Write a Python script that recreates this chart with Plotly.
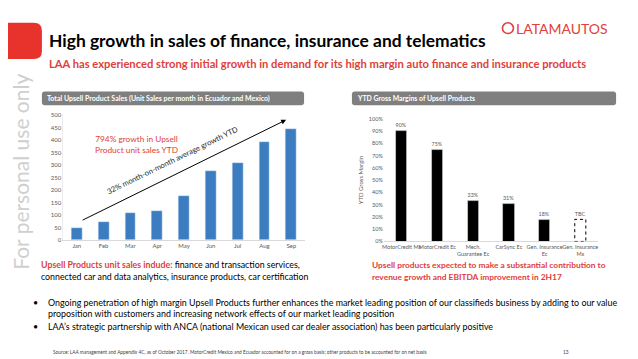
import plotly.graph_objects as go

W, H = 638, 359

# ---------------- data ----------------
months = ["Jan", "Feb", "Mar", "Apr", "May", "Jun", "Jul", "Aug", "Sep"]
unit_sales = [49, 73, 110, 117, 175, 275, 307, 392, 446]

products = ["MotorCredit Mx", "MotorCredit Ec", "Mech.<br>Guarantee Ec", "CarSync Ec",
            "Gen. Insurance<br>Ec", "Gen. Insurance<br>Mx"]
gross_margin = [0.90, 0.75, 0.33, 0.31, 0.18, 0.18]
margin_labels = ["90%", "75%", "33%", "31%", "18%", "TBC"]
margin_confirmed = [True, True, True, True, True, False]

sales_ticks = list(range(0, 501, 50))
margin_ticks = [i / 10 for i in range(0, 11)]

FONT = "Lato, 'Open Sans', sans-serif"
RED = "#e0403a"
GREY_TXT = "#595959"


def px(x):
    return x / W


def py(y):
    return 1 - y / H


def rrect(x0, y0, x1, y1, r):
    # rounded rectangle path in paper coordinates from pixel values
    pts = (f"M {px(x0 + r)},{py(y0)} L {px(x1 - r)},{py(y0)} Q {px(x1)},{py(y0)} {px(x1)},{py(y0 + r)} "
           f"L {px(x1)},{py(y1 - r)} Q {px(x1)},{py(y1)} {px(x1 - r)},{py(y1)} "
           f"L {px(x0 + r)},{py(y1)} Q {px(x0)},{py(y1)} {px(x0)},{py(y1 - r)} "
           f"L {px(x0)},{py(y0 + r)} Q {px(x0)},{py(y0)} {px(x0 + r)},{py(y0)} Z")
    return pts


fig = go.Figure()

# left chart bars
fig.add_trace(go.Bar(x=months, y=unit_sales, marker_color="#3b7dc0", width=0.4,
                     xaxis="x", yaxis="y", showlegend=False, hoverinfo="x+y"))

# right chart bars
bar_colors = ["#000000" if c else "rgba(0,0,0,0)" for c in margin_confirmed]
fig.add_trace(go.Bar(x=products, y=gross_margin, marker_color=bar_colors, width=0.31,
                     text=margin_labels, textposition="outside", cliponaxis=False,
                     textfont=dict(size=5.5, color=GREY_TXT, family=FONT),
                     xaxis="x2", yaxis="y2", showlegend=False))

shapes = []
# dashed outline for unconfirmed margins
for i, (v, c) in enumerate(zip(gross_margin, margin_confirmed)):
    if not c:
        shapes.append(dict(type="rect", xref="x2", yref="y2", x0=i - 0.155, x1=i + 0.155,
                           y0=0, y1=v, line=dict(color="#000000", width=1, dash="dot"),
                           fillcolor="rgba(0,0,0,0)"))

# red tab top-left
shapes.append(dict(type="path", xref="paper", yref="paper", path=rrect(-12, 11, 32, 48, 8),
                   fillcolor="#e8332c", line=dict(width=0)))
# grey header boxes
shapes.append(dict(type="path", xref="paper", yref="paper", path=rrect(32, 81, 295, 95, 3),
                   fillcolor="#7f7f7f", line=dict(width=0)))
shapes.append(dict(type="path", xref="paper", yref="paper", path=rrect(343, 81, 608, 95, 3),
                   fillcolor="#7f7f7f", line=dict(width=0)))
# logo mark
shapes.append(dict(type="circle", xref="paper", yref="paper", x0=px(494), x1=px(505),
                   y0=py(22), y1=py(11), line=dict(color=RED, width=1.6)))

annotations = []


def txt(x, y, text, size, color="#000000", bold=False, xanchor="left", yanchor="middle",
        align="left", angle=0, family=FONT):
    if bold:
        text = f"<b>{text}</b>"
    annotations.append(dict(x=px(x), y=py(y), xref="paper", yref="paper", text=text,
                            showarrow=False, xanchor=xanchor, yanchor=yanchor, align=align,
                            textangle=angle, borderpad=0,
                            font=dict(size=size, color=color, family=family)))


txt(38, 29, "High growth in sales of finance, insurance and telematics", 17.4, "#000000", bold=True)
txt(38, 53, "LAA has experienced strong initial growth in demand for its high margin auto finance and insurance products",
    11.2, RED, bold=True)
txt(507, 16.5, "LATAMAUTOS", 14, RED)

txt(36, 88, "Total Upsell Product Sales (Unit Sales per month in Ecuador and Mexico)", 7.0, "#ffffff", bold=True)
txt(347, 88, "YTD Gross Margins of Upsell Products", 6.9, "#ffffff", bold=True)

txt(127, 135, "794% growth in Upsell<br>Product unit sales YTD", 8.3, RED, xanchor="center", align="center")
txt(163, 151, "32% month-on-month average growth YTD", 7.6, "#262626", xanchor="center", angle=-26)

# arrow (head at (277,110), tail at (72,211) in pixels)
annotations.append(dict(x=px(277), y=py(110), ax=72 - 277, ay=211 - 110, xref="paper", yref="paper",
                        axref="pixel", ayref="pixel", showarrow=True, arrowhead=2, arrowsize=1,
                        arrowwidth=1, arrowcolor="#000000", text=""))

txt(30, 258, f"<span style='color:{RED}'><b>Upsell Products unit sales indude:</b></span> finance and transaction services,",
    8.8, "#000000")
txt(30, 270, "connected car and data analytics, insurance products, car certification", 8.8, "#000000")
txt(362, 258, "Upsell products expected to make a substantial contribution to", 8.4, RED, bold=True)
txt(362, 270, "revenue growth and EBITDA improvement in 2H17", 8.4, RED, bold=True)

txt(22, 296, "•", 8.9)
txt(37, 296, "Ongoing penetration of high margin Upsell Products further enhances the market leading position of our classifieds business by adding to our value",
    8.9)
txt(37, 308, "proposition with customers and increasing network effects of our market leading position", 8.9)
txt(22, 321, "•", 8.9)
txt(37, 321, "LAA’s strategic partnership with ANCA (national Mexican used car dealer association) has been particularly positive",
    8.9)
txt(42, 347, "Source: LAA management and Appendix 4C, as of October 2017. MotorCredit Mexico and Ecuador accounted for on a gross basis; other products to be accounted for on net basis",
    4.8, "#404040")
txt(558, 347, "13", 4.8, "#404040", xanchor="center")

txt(11, 163, "For personal use only", 21, "#cfcfcf", xanchor="center", angle=-90)

fig.update_layout(
    width=W, height=H, margin=dict(l=0, r=0, t=0, b=0),
    paper_bgcolor="white", plot_bgcolor="white",
    font=dict(family=FONT, color=GREY_TXT),
    shapes=shapes, annotations=annotations, bargap=0,
    xaxis=dict(domain=[px(53.6), px(295.6)], anchor="y", showline=True, linecolor="#d9d9d9",
               linewidth=1, ticks="", tickfont=dict(size=6, color=GREY_TXT), showgrid=False,
               fixedrange=True),
    yaxis=dict(domain=[py(232.7), py(105)], anchor="x", range=[0, 500], tickvals=sales_ticks,
               showgrid=False, zeroline=False, showline=True, linecolor="#ececec", linewidth=1,
               ticks="", tickfont=dict(size=6, color=GREY_TXT), fixedrange=True),
    xaxis2=dict(domain=[px(375), px(590)], anchor="y2", showline=True, linecolor="#d9d9d9",
                linewidth=1, ticks="", tickfont=dict(size=5.5, color=GREY_TXT), showgrid=False,
                tickangle=0, fixedrange=True),
    yaxis2=dict(domain=[py(234), py(109)], anchor="x2", range=[0, 1], tickvals=margin_ticks,
                tickformat=".0%", showgrid=False, zeroline=False, showline=False, ticks="",
                tickfont=dict(size=5.5, color=GREY_TXT),
                title=dict(text="YTD Gross Margin", font=dict(size=6, color=GREY_TXT), standoff=4),
                fixedrange=True),
)

fig.write_html("out.html")
